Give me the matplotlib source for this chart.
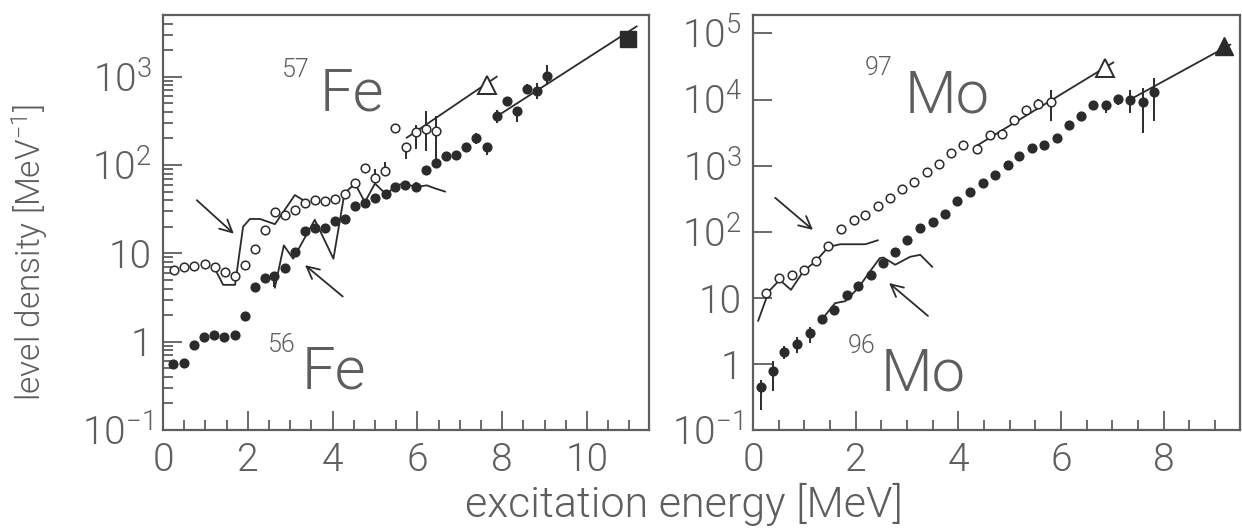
import numpy as np
import matplotlib
matplotlib.use("Agg")
import matplotlib.pyplot as plt
from matplotlib.ticker import LogLocator, MultipleLocator, NullFormatter

plt.rcParams['font.family'] = ['Roboto', 'DejaVu Sans']
plt.rcParams['font.weight'] = 300
plt.rcParams['mathtext.default'] = 'regular'

# ---- 56Fe / 57Fe (left panel) ----
fe56_E = [0.24, 0.50, 0.73, 0.97, 1.21, 1.45, 1.69, 1.93, 2.17, 2.40, 2.63, 2.88, 3.11,
          3.35, 3.58, 3.82, 4.06, 4.29, 4.54, 4.76, 5.00, 5.25, 5.48, 5.71, 5.96, 6.20,
          6.44, 6.67, 6.91, 7.15, 7.39, 7.63, 7.87, 8.11, 8.34, 8.58, 8.81, 9.06]
fe56_rho = [0.56, 0.57, 0.92, 1.12, 1.2, 1.12, 1.2, 1.97, 4.2, 5.2, 5.5, 6.8, 10.3,
            17.9, 19.4, 19.6, 23.3, 24.2, 34, 37.3, 41.8, 47, 57, 59, 57, 88,
            106, 126, 130, 158, 200, 158, 362, 525, 405, 728, 697, 1025]
# error bar half-lengths in decades (down, up)
fe56_lo = [0.04, 0.04, 0, 0, 0.02, 0.04, 0.06, 0, 0, 0, 0.12, 0, 0.05,
           0, 0, 0, 0, 0, 0.03, 0.03, 0.04, 0.05, 0.04, 0.04, 0.05, 0.05,
           0.05, 0.04, 0.04, 0.05, 0.06, 0.09, 0.08, 0.05, 0.12, 0.05, 0.1, 0.1]
fe56_hi = [0.02, 0.02, 0, 0, 0.02, 0.02, 0.03, 0, 0, 0, 0.02, 0, 0.03,
           0, 0, 0, 0, 0, 0.03, 0.03, 0.04, 0.05, 0.04, 0.04, 0.05, 0.05,
           0.05, 0.04, 0.04, 0.05, 0.06, 0.05, 0.06, 0.05, 0.05, 0.05, 0.08, 0.12]

fe57_E = [0.26, 0.50, 0.74, 0.98, 1.23, 1.46, 1.70, 1.94, 2.17, 2.41, 2.64, 2.88, 3.12,
          3.36, 3.59, 3.83, 4.06, 4.30, 4.54, 4.77, 5.01, 5.24, 5.47, 5.72, 5.96, 6.20, 6.45]
fe57_rho = [6.5, 7.0, 7.2, 7.6, 7.0, 6.1, 5.6, 7.3, 11.1, 18.2, 29.5, 27.5, 30.9,
            37.3, 40, 39, 41, 46.8, 62, 91.7, 72, 86, 264, 161, 239, 255, 243]
fe57_lo = [0, 0, 0, 0, 0.03, 0.03, 0.03, 0, 0, 0, 0, 0, 0,
           0, 0, 0, 0, 0, 0.03, 0.03, 0.05, 0.06, 0.02, 0.14, 0.2, 0.25, 0.36]
fe57_hi = [0, 0, 0, 0, 0.03, 0.03, 0.03, 0, 0, 0, 0, 0, 0,
           0, 0, 0, 0, 0, 0.03, 0.03, 0.1, 0.1, 0.02, 0.02, 0.08, 0.2, 0.17]

fe57_lvl_E = [1.19, 1.42, 1.70, 1.89, 2.05, 2.29, 2.64, 3.11, 3.35]
fe57_lvl_rho = [7.2, 4.4, 4.4, 20, 24.5, 24.5, 21.4, 45.7, 38.9]
fe56_lvl_E = [2.64, 2.85, 3.07, 3.58, 4.02, 4.28, 4.53, 4.76, 5.00, 5.28, 5.47, 5.71,
              5.96, 6.22, 6.42, 6.65]
fe56_lvl_rho = [4.1, 12.3, 8.7, 24, 8.7, 47.9, 61.7, 38, 61.7, 45.7, 58.9, 61.7,
                56.2, 58.9, 54.3, 50.1]

fe57_fit_E = [5.75, 7.87]
fe57_fit_rho = [204, 1000]
fe57_tri_E, fe57_tri_rho = 7.63, 813
fe56_fit_E = [7.87, 11.17]
fe56_fit_rho = [355, 3715]
fe56_sq_E, fe56_sq_rho = 10.97, 2690

# ---- 96Mo / 97Mo (right panel) ----
mo96_E = [0.15, 0.38, 0.61, 0.86, 1.11, 1.34, 1.58, 1.84, 2.05, 2.29, 2.54, 2.77, 3.01,
          3.25, 3.50, 3.74, 3.98, 4.23, 4.48, 4.72, 4.96, 5.19, 5.44, 5.68, 5.92, 6.16,
          6.39, 6.63, 6.88, 7.12, 7.35, 7.60, 7.82]
mo96_rho = [0.45, 0.79, 1.49, 2.03, 2.96, 4.8, 6.5, 10.9, 14.9, 22.3, 34, 50, 74,
            115, 141, 187, 295, 404, 549, 720, 1025, 1400, 1820, 2040, 2640, 4050,
            5560, 8300, 8300, 10250, 9900, 9100, 13200]
mo96_lo = [0.35, 0.3, 0.1, 0.14, 0.16, 0.06, 0.06, 0, 0, 0, 0, 0, 0,
           0, 0, 0, 0, 0, 0, 0, 0, 0, 0.03, 0.03, 0, 0,
           0, 0.07, 0.12, 0.1, 0.2, 0.46, 0.45]
mo96_hi = [0.1, 0.15, 0.1, 0.1, 0.09, 0.05, 0.05, 0, 0, 0, 0, 0, 0,
           0, 0, 0, 0, 0, 0, 0, 0, 0, 0.03, 0.03, 0, 0,
           0, 0.03, 0.05, 0.06, 0.15, 0.21, 0.2]

mo97_E = [0.25, 0.51, 0.75, 0.99, 1.23, 1.47, 1.71, 1.96, 2.19, 2.43, 2.66, 2.90,
          3.14, 3.39, 3.63, 3.86, 4.10, 4.36, 4.61, 4.85, 5.09, 5.32, 5.56, 5.80]
mo97_rho = [11.8, 19.9, 22.2, 26.4, 36.4, 60.5, 111, 148, 182, 245, 322, 444,
            560, 790, 1070, 1540, 2040, 1780, 2870, 2960, 4890, 6840, 8610, 9120]
mo97_lo = [0, 0, 0, 0, 0, 0, 0, 0, 0, 0, 0, 0,
           0, 0, 0, 0, 0, 0, 0, 0.02, 0.03, 0.03, 0.05, 0.29]
mo97_hi = [0, 0, 0, 0, 0, 0, 0, 0, 0, 0, 0, 0,
           0, 0, 0, 0, 0, 0, 0, 0.02, 0.03, 0.03, 0.08, 0.18]

mo97_lvl_E = [0.10, 0.31, 0.52, 0.74, 0.98, 1.23, 1.47, 1.70, 2.19, 2.43]
mo97_lvl_rho = [4.5, 12.6, 18.6, 13.2, 25.1, 36.3, 58.9, 64.6, 64.6, 74.1]
mo96_lvl_E = [1.34, 1.60, 1.80, 2.05, 2.28, 2.47, 2.54, 2.77, 3.06, 3.26, 3.49]
mo96_lvl_rho = [4.7, 8.3, 8.9, 14.1, 25.1, 39.8, 40.7, 31.6, 41.7, 44.7, 29.5]

mo97_fit_E = [4.36, 7.02]
mo97_fit_rho = [2000, 36300]
mo97_tri_E, mo97_tri_rho = 6.86, 29500
mo96_fit_E = [7.35, 9.30]
mo96_fit_rho = [10000, 67600]
mo96_tri_E, mo96_tri_rho = 9.17, 63800

ink = '#2b2b2b'
grey = '#5e5e5e'


def yerr(rho, lo, hi):
    rho = np.asarray(rho, float)
    return [rho - rho * 10 ** (-np.asarray(lo)), rho * 10 ** np.asarray(hi) - rho]


def points(ax, E, rho, lo, hi, filled):
    ax.errorbar(E, rho, yerr=yerr(rho, lo, hi), fmt='o', ms=6.2, color=ink,
                mfc=ink if filled else 'white', mec=ink, mew=1.1,
                elinewidth=1.4, capsize=0, zorder=3)


def style(ax, xmax, ymax, ticks, labels):
    ax.set_yscale('log')
    ax.set_xlim(0, xmax)
    ax.set_ylim(0.1, ymax)
    ax.xaxis.set_major_locator(MultipleLocator(2))
    ax.xaxis.set_minor_locator(MultipleLocator(0.5))
    ax.set_yticks(ticks)
    ax.set_yticklabels(labels)
    ax.yaxis.set_minor_locator(LogLocator(base=10, subs=np.arange(2, 10)))
    ax.yaxis.set_minor_formatter(NullFormatter())
    ax.tick_params(which='both', direction='in', top=False, right=False,
                   color=grey, width=1.3, labelcolor=grey, labelsize=28)
    ax.tick_params(which='major', length=14, pad=8)
    ax.tick_params(which='minor', length=7)
    for s in ax.spines.values():
        s.set_color(grey)
        s.set_linewidth(1.6)


fig = plt.figure(figsize=(12.42, 5.31), dpi=100)
ax1 = fig.add_axes([0.1312, 0.1902, 0.3913, 0.7816])
ax2 = fig.add_axes([0.6063, 0.1902, 0.3921, 0.7816])

# left panel
ax1.plot(fe57_lvl_E, fe57_lvl_rho, color=ink, lw=1.3)
ax1.plot(fe56_lvl_E, fe56_lvl_rho, color=ink, lw=1.3)
ax1.plot(fe57_fit_E, fe57_fit_rho, color=ink, lw=1.3)
ax1.plot(fe56_fit_E, fe56_fit_rho, color=ink, lw=1.3)
points(ax1, fe57_E, fe57_rho, fe57_lo, fe57_hi, False)
points(ax1, fe56_E, fe56_rho, fe56_lo, fe56_hi, True)
ax1.plot(fe57_tri_E, fe57_tri_rho, '^', ms=13, mfc='white', mec=ink, mew=1.4, zorder=4)
ax1.plot(fe56_sq_E, fe56_sq_rho, 's', ms=11, color=ink, zorder=4)
arrow = dict(arrowstyle='->', color=ink, lw=1.3, mutation_scale=22)
ax1.annotate('', xy=(1.72, 15.9), xytext=(0.75, 42), arrowprops=arrow)
ax1.annotate('', xy=(3.30, 7.7), xytext=(4.29, 3.1), arrowprops=arrow)
style(ax1, 11.46, 5000, [0.1, 1, 10, 100, 1000],
      ['$10^{-1}$', '1', '10', '$10^{2}$', '$10^{3}$'])
ax1.text(0.302, 0.839, '57', transform=ax1.transAxes, ha='right', va='bottom',
         fontsize=18, color=grey)
ax1.text(0.322, 0.771, 'Fe', transform=ax1.transAxes, ha='left', va='baseline',
         fontsize=43, color=grey)
ax1.text(0.272, 0.176, '56', transform=ax1.transAxes, ha='right', va='bottom',
         fontsize=18, color=grey)
ax1.text(0.286, 0.101, 'Fe', transform=ax1.transAxes, ha='left', va='baseline',
         fontsize=43, color=grey)

# right panel
ax2.plot(mo97_lvl_E, mo97_lvl_rho, color=ink, lw=1.3)
ax2.plot(mo96_lvl_E, mo96_lvl_rho, color=ink, lw=1.3)
ax2.plot(mo97_fit_E, mo97_fit_rho, color=ink, lw=1.3)
ax2.plot(mo96_fit_E, mo96_fit_rho, color=ink, lw=1.3)
points(ax2, mo97_E, mo97_rho, mo97_lo, mo97_hi, False)
points(ax2, mo96_E, mo96_rho, mo96_lo, mo96_hi, True)
ax2.plot(mo97_tri_E, mo97_tri_rho, '^', ms=13, mfc='white', mec=ink, mew=1.4, zorder=4)
ax2.plot(mo96_tri_E, mo96_tri_rho, '^', ms=13, color=ink, zorder=4)
ax2.annotate('', xy=(1.21, 100), xytext=(0.39, 347), arrowprops=arrow)
ax2.annotate('', xy=(2.61, 17.8), xytext=(3.45, 5.0), arrowprops=arrow)
style(ax2, 9.49, 1.9e5, [0.1, 1, 10, 100, 1e3, 1e4, 1e5],
      ['$10^{-1}$', '1', '10', '$10^{2}$', '$10^{3}$', '$10^{4}$', '$10^{5}$'])
ax2.text(0.287, 0.843, '97', transform=ax2.transAxes, ha='right', va='bottom',
         fontsize=18, color=grey)
ax2.text(0.312, 0.766, 'Mo', transform=ax2.transAxes, ha='left', va='baseline',
         fontsize=43, color=grey)
ax2.text(0.251, 0.173, '96', transform=ax2.transAxes, ha='right', va='bottom',
         fontsize=18, color=grey)
ax2.text(0.261, 0.096, 'Mo', transform=ax2.transAxes, ha='left', va='baseline',
         fontsize=43, color=grey)

fig.text(0.551, 0.05, 'excitation energy [MeV]', ha='center', va='center',
         fontsize=31, color=grey)
fig.text(0.024, 0.524, 'level density [MeV$^{-1}$]', rotation=90, ha='center',
         va='center', fontsize=24, color=grey)

fig.savefig('out.png', dpi=100)
